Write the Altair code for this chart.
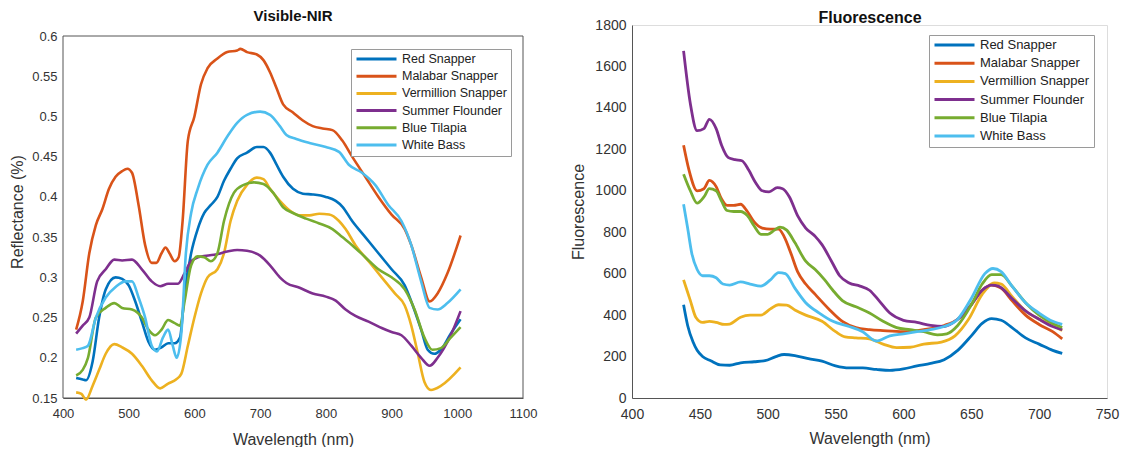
import altair as alt
import pandas as pd

SPECIES = ["Red Snapper", "Malabar Snapper", "Vermillion Snapper",
           "Summer Flounder", "Blue Tilapia", "White Bass"]
COLORS = ["#0072BD", "#D95319", "#EDB120", "#7E2F8E", "#77AC30", "#4DBEEE"]

# ---------------- Visible-NIR reflectance ----------------
VIS_RED_WL = [420, 430, 435, 445, 455, 465, 480, 490, 500, 510, 520, 530, 540, 550, 560, 570, 578, 585, 595, 605,
              615, 625, 635, 645, 655, 665, 680, 695, 705, 715, 725, 735, 750, 765, 780, 800, 815, 825, 840, 860,
              880, 900, 920, 930, 945, 955, 965, 975, 990, 1005]
VIS_RED = [0.175, 0.173, 0.172, 0.195, 0.25, 0.285, 0.30, 0.298, 0.29, 0.27, 0.245, 0.22, 0.21, 0.213, 0.218, 0.218,
           0.225, 0.28, 0.33, 0.36, 0.38, 0.39, 0.40, 0.42, 0.435, 0.448, 0.455, 0.462, 0.462, 0.455, 0.44, 0.425,
           0.41, 0.404, 0.403, 0.40, 0.395, 0.388, 0.37, 0.35, 0.33, 0.31, 0.29, 0.27, 0.235, 0.21, 0.205, 0.21,
           0.23, 0.248]

VIS_MAL_WL = [420, 430, 440, 450, 460, 470, 480, 490, 498, 505, 515, 525, 535, 542, 550, 556, 562, 570, 576, 582,
              590, 600, 610, 620, 635, 650, 665, 670, 680, 695, 705, 715, 725, 735, 750, 765, 780, 795, 810, 825,
              840, 860, 880, 900, 920, 930, 945, 958, 970, 985, 1005]
VIS_MAL = [0.235, 0.27, 0.33, 0.365, 0.385, 0.41, 0.425, 0.432, 0.435, 0.43, 0.39, 0.34, 0.318, 0.318, 0.33, 0.337,
           0.33, 0.32, 0.325, 0.37, 0.47, 0.50, 0.54, 0.56, 0.572, 0.58, 0.582, 0.584, 0.58, 0.577, 0.57, 0.555,
           0.535, 0.515, 0.505, 0.495, 0.488, 0.485, 0.483, 0.47, 0.45, 0.425, 0.40, 0.378, 0.36, 0.34, 0.30,
           0.27, 0.28, 0.305, 0.352]

VIS_VER_WL = [420, 428, 435, 445, 455, 465, 478, 490, 505, 520, 535, 548, 560, 572, 580, 590, 600, 610, 620, 635,
              645, 655, 665, 680, 695, 705, 715, 730, 745, 760, 775, 790, 805, 820, 830, 845, 865, 885, 905, 920,
              930, 940, 950, 960, 975, 1005]
VIS_VER = [0.157, 0.155, 0.148, 0.165, 0.185, 0.205, 0.217, 0.213, 0.205, 0.19, 0.172, 0.162, 0.168, 0.173, 0.18,
           0.215, 0.25, 0.28, 0.30, 0.31, 0.33, 0.37, 0.395, 0.415, 0.424, 0.422, 0.41, 0.395, 0.383, 0.377, 0.377,
           0.379, 0.378, 0.37, 0.36, 0.34, 0.32, 0.30, 0.28, 0.265, 0.24, 0.205, 0.17, 0.16, 0.165, 0.188]

VIS_SUM_WL = [420, 430, 440, 452, 465, 478, 490, 505, 520, 535, 548, 560, 575, 585, 595, 610, 630, 650, 665, 680,
              700, 715, 730, 740, 760, 780, 800, 815, 830, 845, 865, 885, 900, 915, 930, 945, 958, 970, 990, 1005]
VIS_SUM = [0.23, 0.24, 0.25, 0.295, 0.31, 0.322, 0.321, 0.322, 0.31, 0.295, 0.289, 0.292, 0.292, 0.305, 0.32, 0.326,
           0.328, 0.332, 0.334, 0.333, 0.327, 0.315, 0.30, 0.293, 0.287, 0.28, 0.276, 0.271, 0.26, 0.252, 0.245,
           0.237, 0.232, 0.228, 0.215, 0.20, 0.19, 0.20, 0.228, 0.258]

VIS_TIL_WL = [420, 430, 438, 450, 465, 478, 490, 505, 520, 530, 540, 550, 560, 570, 578, 585, 595, 605, 615, 625,
              635, 645, 660, 675, 690, 705, 720, 735, 750, 770, 790, 810, 825, 840, 860, 880, 900, 920, 935, 950,
              962, 975, 990, 1005]
VIS_TIL = [0.178, 0.185, 0.20, 0.25, 0.262, 0.268, 0.262, 0.26, 0.25, 0.235, 0.228, 0.235, 0.247, 0.243, 0.24, 0.27,
           0.315, 0.326, 0.325, 0.32, 0.33, 0.37, 0.405, 0.415, 0.418, 0.416, 0.405, 0.387, 0.38, 0.373, 0.367,
           0.36, 0.35, 0.34, 0.325, 0.31, 0.30, 0.285, 0.26, 0.225, 0.21, 0.212, 0.225, 0.238]

VIS_WB_WL = [420, 430, 438, 450, 465, 480, 495, 505, 515, 525, 535, 543, 552, 560, 567, 573, 580, 587, 595, 605,
             620, 635, 650, 665, 680, 700, 715, 730, 740, 755, 775, 800, 820, 835, 855, 875, 895, 915, 930, 945,
             958, 970, 985, 1005]
VIS_WB = [0.21, 0.212, 0.215, 0.25, 0.275, 0.288, 0.295, 0.295, 0.275, 0.25, 0.215, 0.208, 0.225, 0.235, 0.215, 0.20,
          0.23, 0.33, 0.38, 0.41, 0.44, 0.455, 0.475, 0.492, 0.502, 0.506, 0.502, 0.488, 0.477, 0.472, 0.467, 0.462,
          0.456, 0.44, 0.43, 0.415, 0.39, 0.37, 0.34, 0.295, 0.262, 0.26, 0.268, 0.285]

# ---------------- Fluorescence ----------------
FL_RED_WL = [438, 441, 445, 448, 452, 458, 465, 472, 480, 490, 498, 506, 512, 520, 530, 540, 550, 560, 570, 580,
             590, 600, 610, 620, 630, 640, 650, 658, 665, 672, 680, 690, 700, 710, 717]
FL_RED = [450, 350, 270, 230, 200, 180, 160, 158, 170, 175, 180, 200, 210, 205, 190, 178, 155, 145, 145, 138,
          133, 140, 155, 167, 185, 230, 300, 360, 383, 375, 340, 290, 260, 230, 215]

FL_MAL_WL = [438, 442, 448, 453, 457, 462, 466, 470, 475, 480, 485, 490, 496, 502, 508, 512, 517, 522, 528, 535,
             545, 555, 565, 575, 585, 600, 615, 630, 640, 650, 658, 665, 672, 680, 690, 700, 710, 717]
FL_MAL = [1220, 1100, 1000, 1010, 1050, 1020, 960, 930, 930, 935, 900, 850, 820, 815, 815, 780, 700, 610, 550, 500,
          430, 370, 340, 330, 325, 320, 330, 350, 380, 450, 520, 545, 530, 470, 400, 355, 320, 285]

FL_VER_WL = [438, 443, 447, 452, 457, 462, 468, 472, 480, 487, 495, 502, 508, 514, 520, 528, 540, 550, 557, 565,
             575, 585, 595, 605, 615, 628, 638, 648, 658, 667, 672, 680, 690, 700, 710, 717]
FL_VER = [570, 470, 390, 365, 370, 365, 355, 357, 390, 400, 400, 430, 450, 448, 425, 400, 370, 320, 295, 290,
          285, 260, 243, 245, 260, 270, 300, 380, 500, 555, 550, 490, 420, 380, 350, 325]

FL_SUM_WL = [438, 443, 448, 453, 457, 462, 466, 471, 476, 481, 486, 491, 496, 501, 507, 511, 516, 522, 528, 535,
             540, 547, 553, 560, 568, 575, 582, 590, 600, 610, 620, 630, 640, 650, 658, 665, 670, 680, 690, 700,
             710, 717]
FL_SUM = [1675, 1420, 1290, 1300, 1345, 1300, 1220, 1160, 1150, 1145, 1100, 1040, 1000, 995, 1015, 1010, 970, 880,
          820, 780, 740, 660, 590, 555, 540, 520, 470, 410, 375, 365, 350, 345, 380, 450, 520, 545, 540, 480, 420,
          380, 345, 330]

FL_TIL_WL = [438, 443, 448, 453, 457, 462, 466, 470, 475, 480, 485, 490, 495, 500, 505, 509, 514, 520, 528, 535,
             542, 548, 555, 565, 575, 585, 595, 605, 615, 625, 632, 640, 650, 658, 665, 672, 680, 690, 700, 710, 717]
FL_TIL = [1080, 1000, 940, 970, 1010, 1000, 950, 905, 900, 900, 880, 830, 790, 790, 810, 825, 810, 750, 660, 620,
          570, 520, 470, 440, 410, 370, 340, 330, 320, 305, 310, 350, 450, 550, 595, 595, 540, 460, 400, 360, 340]

FL_WB_WL = [438, 441, 444, 448, 452, 457, 462, 467, 472, 480, 487, 495, 502, 508, 513, 520, 528, 538, 548, 560,
            570, 580, 590, 600, 610, 620, 630, 640, 650, 660, 666, 672, 680, 690, 700, 710, 717]
FL_WB = [935, 820, 700, 620, 590, 590, 580, 550, 545, 560, 550, 540, 570, 605, 600, 530, 460, 410, 370, 345,
         320, 275, 300, 310, 320, 330, 345, 380, 480, 600, 625, 610, 540, 460, 410, 370, 355]

VIS_X_TICKS = [400, 500, 600, 700, 800, 900, 1000, 1100]
VIS_Y_TICKS = [0.15, 0.2, 0.25, 0.3, 0.35, 0.4, 0.45, 0.5, 0.55, 0.6]
FL_X_TICKS = [400, 450, 500, 550, 600, 650, 700, 750]
FL_Y_TICKS = [0, 200, 400, 600, 800, 1000, 1200, 1400, 1600, 1800]


def frame(pairs):
    rows = []
    for name, wls, vals in pairs:
        for w, v in zip(wls, vals):
            rows.append({"Wavelength": w, "Value": v, "Species": name})
    return pd.DataFrame(rows)


vis_df = frame([
    ("Red Snapper", VIS_RED_WL, VIS_RED),
    ("Malabar Snapper", VIS_MAL_WL, VIS_MAL),
    ("Vermillion Snapper", VIS_VER_WL, VIS_VER),
    ("Summer Flounder", VIS_SUM_WL, VIS_SUM),
    ("Blue Tilapia", VIS_TIL_WL, VIS_TIL),
    ("White Bass", VIS_WB_WL, VIS_WB),
])
fl_df = frame([
    ("Red Snapper", FL_RED_WL, FL_RED),
    ("Malabar Snapper", FL_MAL_WL, FL_MAL),
    ("Vermillion Snapper", FL_VER_WL, FL_VER),
    ("Summer Flounder", FL_SUM_WL, FL_SUM),
    ("Blue Tilapia", FL_TIL_WL, FL_TIL),
    ("White Bass", FL_WB_WL, FL_WB),
])

# axes box of the Visible-NIR panel (its axis limits)
vis_box = pd.DataFrame({"Wavelength": [VIS_X_TICKS[0]], "x2": [VIS_X_TICKS[-1]],
                        "Value": [VIS_Y_TICKS[0]], "y2": [VIS_Y_TICKS[-1]]})

FONT = "Liberation Sans"
AXIS_COLOR = "#555555"
TEXT_COLOR = "#333333"

# the left panel frame starts lower than the right one: keep a blank band above it
VIS_PLOT_H = 362
VIS_TOP_GAP = 11
vis_y_top = VIS_Y_TICKS[-1] + (VIS_Y_TICKS[-1] - VIS_Y_TICKS[0]) * VIS_TOP_GAP / VIS_PLOT_H


def axis(title, values, fmt, label_size, title_size, label_pad, title_pad, domain=True):
    return alt.Axis(title=title, values=values, format=fmt, grid=False, ticks=False, tickSize=0,
                    labelFont=FONT, labelFontSize=label_size, labelColor=TEXT_COLOR, labelPadding=label_pad,
                    titleFont=FONT, titleFontSize=title_size, titleFontWeight="normal", titleColor=TEXT_COLOR,
                    titlePadding=title_pad, domain=domain, domainColor=AXIS_COLOR, labelFlush=False,
                    labelOverlap=False)


def legend(lx, ly, row_pad, font_size):
    return alt.Legend(title=None, orient="none", legendX=lx, legendY=ly, strokeColor="#9a9a9a",
                      fillColor="white", padding=4, rowPadding=row_pad, symbolType="stroke", symbolSize=1600,
                      symbolStrokeWidth=3, clipHeight=12, labelFont=FONT, labelFontSize=font_size,
                      labelColor="#222222", labelLimit=300)


color_scale = alt.Scale(domain=SPECIES, range=COLORS)

vis_x_scale = alt.Scale(domain=[VIS_X_TICKS[0], VIS_X_TICKS[-1]], nice=False)
vis_y_scale = alt.Scale(domain=[VIS_Y_TICKS[0], vis_y_top], nice=False, zero=False)
vis_x_axis = axis("Wavelength (nm)", VIS_X_TICKS, "d", 13, 16, 9, 11)
vis_y_axis = axis("Reflectance (%)", VIS_Y_TICKS, "~g", 13, 16, 6, 6, domain=False)

left_box = alt.Chart(vis_box).mark_rect(fillOpacity=0, stroke=AXIS_COLOR, strokeWidth=1).encode(
    x=alt.X("Wavelength:Q", scale=vis_x_scale, axis=vis_x_axis),
    x2="x2:Q",
    y=alt.Y("Value:Q", scale=vis_y_scale, axis=vis_y_axis),
    y2="y2:Q",
)

left_lines = alt.Chart(vis_df).mark_line(strokeWidth=2.6, interpolate="monotone").encode(
    x=alt.X("Wavelength:Q", scale=vis_x_scale, axis=vis_x_axis),
    y=alt.Y("Value:Q", scale=vis_y_scale, axis=vis_y_axis),
    color=alt.Color("Species:N", scale=color_scale, sort=SPECIES,
                    legend=legend(288, 13 + VIS_TOP_GAP, 4.2, 12.5)),
)

left = alt.layer(left_box, left_lines).properties(
    width=460, height=VIS_PLOT_H + VIS_TOP_GAP,
    view=alt.ViewBackground(strokeOpacity=0),
    title=alt.TitleParams("Visible-NIR", font=FONT, fontSize=15, fontWeight="bold", color="#111111",
                          offset=1, frame="group"),
)

fl_x_scale = alt.Scale(domain=[FL_X_TICKS[0], FL_X_TICKS[-1]], nice=False)
fl_y_scale = alt.Scale(domain=[FL_Y_TICKS[0], FL_Y_TICKS[-1]], nice=False)
fl_y_axis = axis("Fluorescence", FL_Y_TICKS, "d", 14, 16, 6, 8)

right_lines = alt.Chart(fl_df).mark_line(strokeWidth=2.8, interpolate="monotone").encode(
    x=alt.X("Wavelength:Q", scale=fl_x_scale,
            axis=axis("Wavelength (nm)", FL_X_TICKS, "d", 14, 16, 9, 9)),
    y=alt.Y("Value:Q", scale=fl_y_scale, axis=fl_y_axis),
    color=alt.Color("Species:N", scale=color_scale, sort=SPECIES, legend=legend(297, 10, 5.2, 13)),
)

# panel title drawn as the title of a label-less top axis, so it sits right above the frame
right_title = alt.Chart(fl_df).mark_point(opacity=0).encode(
    x=alt.X("Wavelength:Q", scale=fl_x_scale,
            axis=alt.Axis(orient="top", title="Fluorescence", labels=False, ticks=False, domain=False,
                          grid=False, titleFont=FONT, titleFontSize=16, titleFontWeight="bold",
                          titleColor="#111111", titlePadding=0)),
    y=alt.Y("Value:Q", scale=fl_y_scale, axis=fl_y_axis),
)

right = alt.layer(right_lines, right_title).resolve_axis(x="independent").properties(width=475, height=373)

chart = alt.hconcat(left, right, spacing=33).resolve_legend(color="independent").properties(
    padding={"left": 1, "top": 0, "right": 0, "bottom": 0},
).configure_view(stroke=AXIS_COLOR, strokeWidth=1).configure(background="white")

chart.save("out.html", embed_options={"renderer": "svg", "actions": False})
